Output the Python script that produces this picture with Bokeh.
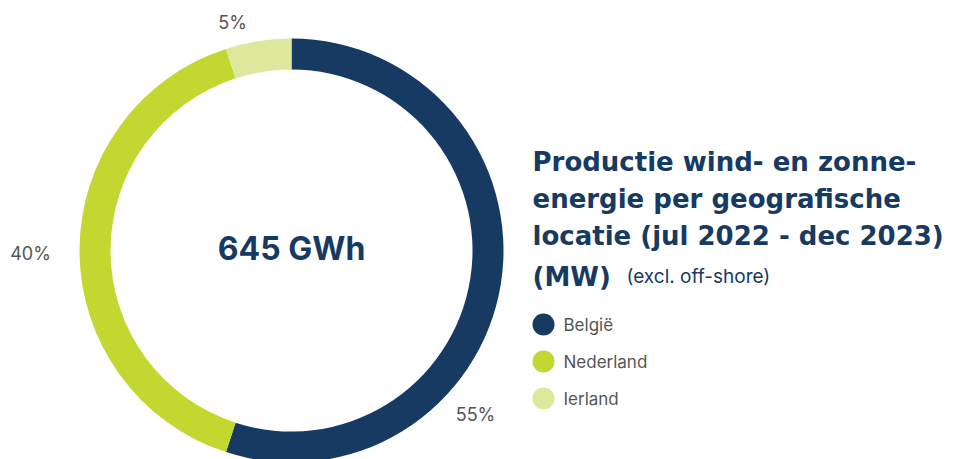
import math
from bokeh.plotting import figure
from bokeh.models import Range1d, ColumnDataSource
from bokeh.core.properties import value
from bokeh.embed import file_html
from bokeh.resources import INLINE

# ---- data ----
regions = ["België", "Nederland", "Ierland"]
shares = [55, 40, 5]
colors = ["#173a63", "#c2d72f", "#dde89d"]
total_label = "645 GWh"
title_lines = ["Productie wind- en zonne-", "energie per geografische",
               "locatie (jul 2022 - dec 2023)", "(MW)"]
subtitle = "(excl. off-shore)"

W, H = 955, 459


def px(x):
    return x


def py(y):
    return H - y


p = figure(width=W, height=H, output_backend="svg", toolbar_location=None,
           x_range=Range1d(0, W), y_range=Range1d(0, H), min_border=0)
p.axis.visible = False
p.grid.visible = False
p.outline_line_color = None
p.background_fill_color = "white"

cx, cy = px(291), py(250)
r_out, r_in = 212, 181

total = sum(shares)
starts, ends = [], []
cum = 0
for s in shares:
    a = cum / total
    b = (cum + s) / total
    starts.append(math.pi / 2 - 2 * math.pi * b)
    ends.append(math.pi / 2 - 2 * math.pi * a)
    cum += s

src = ColumnDataSource(dict(start=starts, end=ends, color=colors, region=regions))
p.annular_wedge(x=cx, y=cy, inner_radius=r_in, outer_radius=r_out,
                start_angle="start", end_angle="end", color="color",
                line_color=None, source=src)

# percentage labels (positions relative to centre, in pixels)
label_offsets = [(184, 164), (-261, 3), (-59, -228)]
lx = [cx + dx for dx, dy in label_offsets]
ly = [cy - dy for dx, dy in label_offsets]
ptxt = [f"{s}%" for s in shares]
p.text(x=lx, y=ly, text=ptxt, text_font=value("Inter"),
       text_font_size="18px", text_color="#555555",
       text_align="center", text_baseline="middle")

# centre label
p.text(x=[cx], y=[py(248)], text=[total_label], text_font=value("Inter"),
       text_font_style="bold", text_font_size="32px", text_color="#173a63",
       text_align="center", text_baseline="middle")

# title
ty = [161, 198, 235, 276]
p.text(x=[px(532)] * 4, y=[py(t) for t in ty], text=title_lines,
       text_font=value("DejaVu Sans"), text_font_style="bold",
       text_font_size="26px", text_color="#173a63",
       text_align="left", text_baseline="alphabetic")
p.text(x=[px(626)], y=[py(276)], text=[subtitle],
       text_font=value("Inter"), text_font_size="19px",
       text_color="#173a63", text_align="left", text_baseline="alphabetic")

# legend
leg_y = [py(324), py(361), py(398)]
p.scatter(x=[px(543)] * 3, y=leg_y, size=22, color=colors, line_color=None)
p.text(x=[px(563)] * 3, y=leg_y, text=regions, text_font=value("Inter"),
       text_font_size="17px", text_color="#555555",
       text_align="left", text_baseline="middle")

open("out.html", "w").write(file_html(p, INLINE))
